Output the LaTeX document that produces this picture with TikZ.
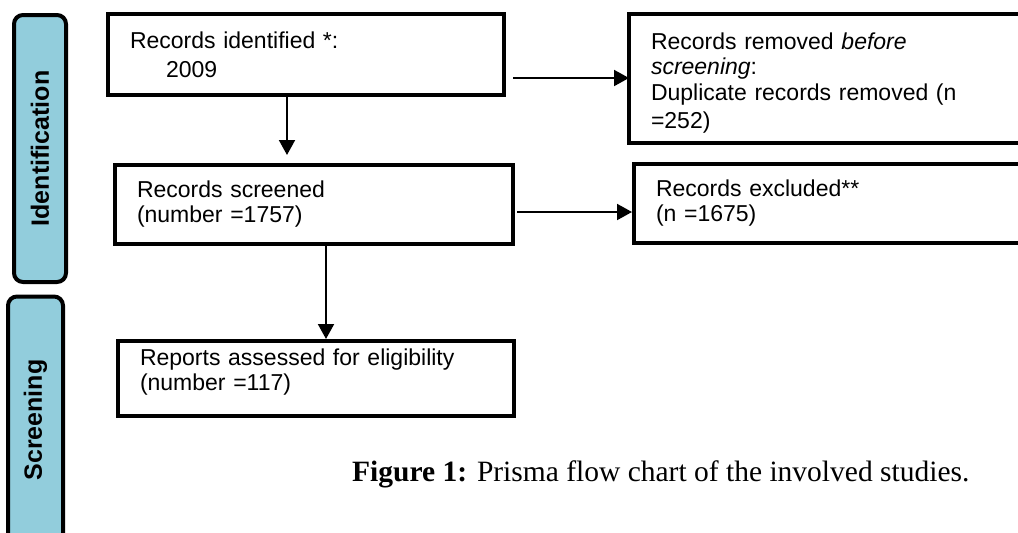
\documentclass[tikz,border=0pt]{standalone}
\usepackage{fontspec}
\setmainfont{Liberation Sans}
\newfontfamily\capfont{Liberation Serif}
\usetikzlibrary{arrows.meta}
\definecolor{phaseblue}{HTML}{92CDDC}
\begin{document}
\begin{tikzpicture}[x=1pt,y=-1pt,
	box/.style={draw,line width=4pt,rectangle,anchor=north west,outer sep=0pt,inner xsep=22pt,inner ysep=0pt,align=left,font=\fontsize{23}{25}\selectfont},
	phase/.style={draw,line width=4pt,fill=phaseblue,rounded corners=9pt,rotate=90,outer sep=0pt,font=\fontsize{25}{27}\selectfont\bfseries},
	arr/.style={line width=2pt,-{Triangle[length=15pt,width=16pt]}}]
	\useasboundingbox (0,0) rectangle (1018,533);
	\clip (0,0) rectangle (1018,533);
	% phases
	\node[phase,minimum width=267pt,minimum height=52pt] (ident) at (40,148.5) {Identification};
	\node[phase,minimum width=247pt,minimum height=55pt] (screen) at (35.5,420) {Screening};
	% boxes
	\node[box,text width=352pt,minimum height=81pt] (identified) at (108,14) {Records identified *:\\[4pt]\hspace*{36pt}2009};
	\node[box,text width=380pt,minimum height=129pt] (removed) at (629,14) {\rule{0pt}{25pt}Records removed \emph{before}\\\emph{screening}:\\[1pt]Duplicate records removed (n\\[3pt]=252)};
	\node[box,text width=354pt,minimum height=79pt] (screened) at (115,165) {Records screened\\(number =1757)};
	\node[box,text width=380pt,minimum height=79pt] (excluded) at (634,164) {Records excluded**\\(n =1675)};
	\node[box,text width=352pt,minimum height=75pt] (reports) at (118,341) {Reports assessed for eligibility\\(number =117)\rule[-18pt]{0pt}{18pt}};
	% arrows
	\draw[arr,shorten >=10pt] ([xshift=-19pt]identified.south) -- ([xshift=-19pt]identified.south |- screened.north);
	\draw[arr,shorten >=2pt] ([xshift=12pt]screened.south) -- ([xshift=12pt]screened.south |- reports.north);
	\draw[arr,shorten <=9pt] ([yshift=-23.5pt]identified.east) -- ([yshift=-23.5pt]identified.east -| removed.west);
	\draw[arr,shorten <=4pt,shorten >=2pt] ([yshift=-7.5pt]screened.east) -- ([yshift=-7.5pt]screened.east -| excluded.west);
	% caption
	\node[anchor=base west,font=\capfont\fontsize{29.5}{32}\selectfont,inner sep=0pt] (caption) at (352,481) {\textbf{Figure 1:} Prisma flow chart of the involved studies.};
\end{tikzpicture}
\end{document}
